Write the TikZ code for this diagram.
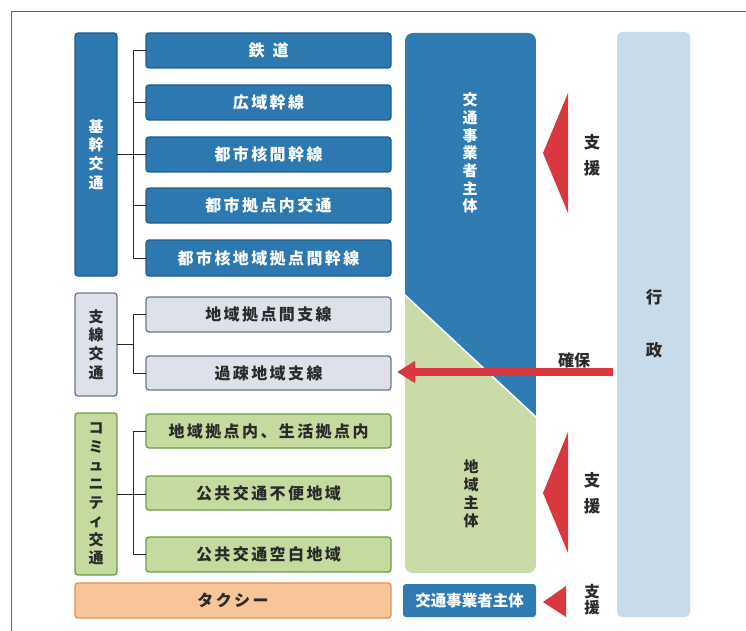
\documentclass[tikz,border=0pt]{standalone}
\usepackage{fontspec}
\usetikzlibrary{arrows.meta,calc}
\newfontfamily\cjk{Noto Sans CJK JP}
\newfontfamily\cjksp{Noto Sans CJK JP}[LetterSpace=15]
\definecolor{bfill}{HTML}{2C79B2}
\definecolor{bdk}{HTML}{215C88}
\definecolor{gfill}{HTML}{DDE1EA}
\definecolor{gdk}{HTML}{6D7488}
\definecolor{lfill}{HTML}{C4DA9E}
\definecolor{ldk}{HTML}{6D9A48}
\definecolor{ofill}{HTML}{F8C59B}
\definecolor{odk}{HTML}{E58E55}
\definecolor{bigblue}{HTML}{2F7BB4}
\definecolor{biggreen}{HTML}{C9DCA8}
\definecolor{admin}{HTML}{C7DBEA}
\definecolor{myred}{HTML}{D8383E}
\definecolor{txt}{HTML}{2A2A2A}
\tikzset{
  box/.style={rounded corners=3pt, line width=1.3pt, inner sep=0pt, outer sep=0pt, align=center},
  boxfont/.style={font=\cjksp\bfseries\fontsize{16}{18.5}\selectfont},
  bluebox/.style={box, draw=bdk, fill=bfill, text=white, boxfont},
  greybox/.style={box, draw=gdk, fill=gfill, text=txt, boxfont},
  greenbox/.style={box, draw=ldk, fill=lfill, text=txt, boxfont},
  orangebox/.style={box, draw=odk, fill=ofill, text=txt, boxfont},
  vtext/.style={font=\cjk\bfseries\fontsize{15}{18.6}\selectfont, align=center, inner sep=0pt},
  sidetext/.style={font=\cjk\bfseries\fontsize{16.5}{26}\selectfont, align=center, inner sep=0pt, text=txt},
  conn/.style={draw=black!85, line width=0.9pt},
  redtri/.style={fill=myred, draw=none},
  bigarrow/.style={draw=myred, line width=8pt, -{Triangle[length=18pt, width=21pt]}},
}
\begin{document}
\begin{tikzpicture}[x=1pt,y=-1pt]
\useasboundingbox (0,0) rectangle (746,631);
\fill[white] (0,0) rectangle (746,631);
% frame
\draw[black!60, line width=1pt] (746,12) -- (11,12) -- (11,631);

% 行政 column
\fill[admin, rounded corners=5pt] (617,32) rectangle (690,617);
\node[sidetext] (gyo1) at (654,297) {行};
\node[sidetext] (gyo2) at (654,350) {政};
\node[inner sep=0pt, minimum width=73pt, minimum height=585pt] (admin) at (653.5,324.5) {};

% big box: blue / green
\begin{scope}
  \clip[rounded corners=8pt] (405,33) rectangle (536,573);
  \fill[biggreen] (405,33) rectangle (536,573);
  \fill[bigblue] (405,33) -- (536,33) -- (536,417) -- (405,295) -- cycle;
  \draw[white, line width=1.5pt] (405,295) -- (536,417);
\end{scope}
\node[vtext, text=white, font=\cjk\bfseries\fontsize{15}{17.7}\selectfont] (op) at (470,153) {交\\通\\事\\業\\者\\主\\体};
\node[vtext, text=txt, font=\cjk\bfseries\fontsize{15}{18}\selectfont] (local) at (471,494) {地\\域\\主\\体};

% small operator box
\node[box, fill=bigblue, text=white, rounded corners=3pt, minimum width=133pt, minimum height=33pt,
      font=\cjk\bfseries\fontsize{15.5}{18}\selectfont] (op2) at (469.5,600.5) {交通事業者主体};

% left column parents
\node[bluebox, minimum width=42pt, minimum height=243pt] (p1) at (96,154.5) {};
\node[vtext, text=white] at (p1.center) {基\\幹\\交\\通};
\node[greybox, minimum width=42pt, minimum height=103pt] (p2) at (96,344.5) {};
\node[vtext, text=txt] at (p2.center) {支\\線\\交\\通};
\node[greenbox, minimum width=42pt, minimum height=162pt] (p3) at (96,494) {};
\node[vtext, text=txt] at (p3.center) {コ\\ミ\\ュ\\ニ\\テ\\ィ\\交\\通};

% children
\node[bluebox, minimum width=245pt, minimum height=35pt] (a1) at (268.5,50.5) {鉄\hspace{0.5em}道};
\node[bluebox, minimum width=245pt, minimum height=35pt] (a2) at (268.5,102.5) {広域幹線};
\node[bluebox, minimum width=245pt, minimum height=35pt] (a3) at (268.5,154.5) {都市核間幹線};
\node[bluebox, minimum width=245pt, minimum height=35pt] (a4) at (268.5,205.5) {都市拠点内交通};
\node[bluebox, minimum width=245pt, minimum height=36pt] (a5) at (268.5,258) {都市核地域拠点間幹線};

\node[greybox, minimum width=245pt, minimum height=35pt] (b1) at (268.5,314.5) {地域拠点間支線};
\node[greybox, minimum width=245pt, minimum height=34pt] (b2) at (268.5,373) {過疎地域支線};

\node[greenbox, minimum width=245pt, minimum height=34pt] (c1) at (268.5,431) {地域拠点内、生活拠点内};
\node[greenbox, minimum width=245pt, minimum height=34pt] (c2) at (268.5,493) {公共交通不便地域};
\node[greenbox, minimum width=245pt, minimum height=35pt] (c3) at (268.5,554.5) {公共交通空白地域};

\node[orangebox, minimum width=316pt, minimum height=35pt] (taxi) at (233,600.5) {タクシー};

% brackets
\draw[conn] (a1.west) -- ++(-13,0) |- (a5.west);
\draw[conn] (a2.west) -- ++(-13,0);
\draw[conn] (a4.west) -- ++(-13,0);
\draw[conn] (p1.east) -- (a3.west);
\draw[conn] (b1.west) -- ++(-13,0) |- (b2.west);
\draw[conn] (p2.east) -- ++(16,0);
\draw[conn] (c1.west) -- ++(-13,0) |- (c3.west);
\draw[conn] (p3.east) -- (p3.east -| c2.west);

% red triangles
\fill[redtri] (568,93) -- (543,153) -- (568,213) -- cycle;
\fill[redtri] (568,432) -- (543,493) -- (568,553) -- cycle;
\fill[redtri] (566,586) -- (543,602) -- (566,617) -- cycle;
\node[sidetext] (s1) at (592,155) {支\\援};
\node[sidetext] (s2) at (592,493.5) {支\\援};
\node[sidetext, font=\cjk\bfseries\fontsize{15.5}{16}\selectfont] (s3) at (592,600) {支\\援};

% 確保 arrow
\draw[bigarrow] ($(admin.west |- b2.east)+(-4,-1)$) -- ($(b2.east)+(6,-1)$);
\node[sidetext, font=\cjk\bfseries\fontsize{16}{18}\selectfont, text=txt] (kakuho) at (574,360) {確保};
\end{tikzpicture}
\end{document}
